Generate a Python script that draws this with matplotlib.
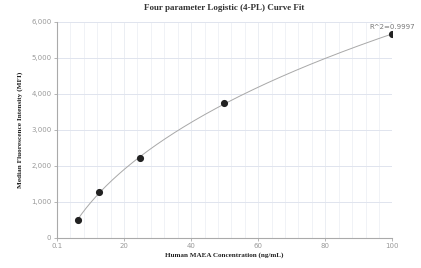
import numpy as np
import matplotlib
matplotlib.use("Agg")
import matplotlib.pyplot as plt
from matplotlib.ticker import FuncFormatter, FixedLocator

conc = [6.25, 12.5, 25, 50, 100]
mfi = [490, 1260, 2220, 3735, 5655]
x_ticks = [0.1, 20, 40, 60, 80, 100]
x_tick_labels = ["0.1", "20", "40", "60", "80", "100"]
y_ticks = [0, 1000, 2000, 3000, 4000, 5000, 6000]
r2_text = "R^2=0.9997"
title = "Four parameter Logistic (4-PL) Curve Fit"
xlabel = "Human MAEA Concentration (ng/mL)"
ylabel = "Median Fluorescence Intensity (MFI)"

x = np.array(conc, float)
y = np.array(mfi, float)

# 4PL fit: y = d + (a-d)/(1+(x/c)^b); grid over b,c, linear solve for a,d
best = None
for b in np.linspace(0.5, 2.5, 201):
    for c in np.logspace(1, 5, 401):
        u = (x / c) ** b
        A = np.column_stack([1 / (1 + u), u / (1 + u)])
        coef, *_ = np.linalg.lstsq(A, y, rcond=None)
        r = np.sum((A @ coef - y) ** 2)
        if best is None or r < best[0]:
            best = (r, b, c, coef)
_, b, c, (a, d) = best
xs = np.linspace(x.min(), x.max(), 300)
us = (xs / c) ** b
ys = a / (1 + us) + d * us / (1 + us)

fig = plt.figure(figsize=(4.21, 2.68), dpi=100)
ax = fig.add_axes([57 / 421, 1 - 237.7 / 268, (392 - 57) / 421, (237.7 - 21.7) / 268])

ax.set_xlim(0.1, 100)
ax.set_ylim(0, 6000)
ax.xaxis.set_major_locator(FixedLocator(x_ticks))
ax.set_xticklabels(x_tick_labels)
ax.xaxis.set_minor_locator(FixedLocator(np.arange(0.1, 100, 4.0)))
ax.yaxis.set_major_locator(FixedLocator(y_ticks))
ax.yaxis.set_major_formatter(FuncFormatter(lambda v, p: f"{int(v):,}"))

ax.grid(True, which="major", color="#e0e4ee", linewidth=0.7)
ax.grid(True, which="minor", axis="x", color="#eef0f5", linewidth=0.6)
ax.set_axisbelow(True)

for s in ["top", "right"]:
    ax.spines[s].set_visible(False)
for s in ["left", "bottom"]:
    ax.spines[s].set_color("#aaaaaa")
    ax.spines[s].set_linewidth(0.8)

ax.tick_params(axis="both", which="major", labelsize=5, colors="#aaaaaa",
               labelcolor="#999999", length=2.5, width=0.6, pad=1.5)
ax.tick_params(axis="x", which="minor", length=0)

ax.plot(xs, ys, color="#a8a8a8", linewidth=0.7, zorder=2)
ax.scatter(x, y, s=17, color="#222222", zorder=3)

ax.annotate(r2_text, (x[-1], y[-1]), xytext=(0, 3), textcoords="offset points",
            ha="center", va="bottom", fontsize=5, color="#777777")

serif = ["Liberation Serif", "DejaVu Serif"]
fig.text(224.5 / 421, 1 - 8 / 268, title, ha="center", va="center",
         fontsize=6.5, fontweight="bold", family=serif, color="#333333")
fig.text(224.5 / 421, 1 - 255 / 268, xlabel, ha="center", va="center",
         fontsize=5.1, fontweight="bold", family=serif, color="#222222")
fig.text(20 / 421, 1 - 130 / 268, ylabel, ha="center", va="center", rotation=90,
         fontsize=5.2, fontweight="bold", family=serif, color="#222222")

fig.savefig("out.png", dpi=100)
